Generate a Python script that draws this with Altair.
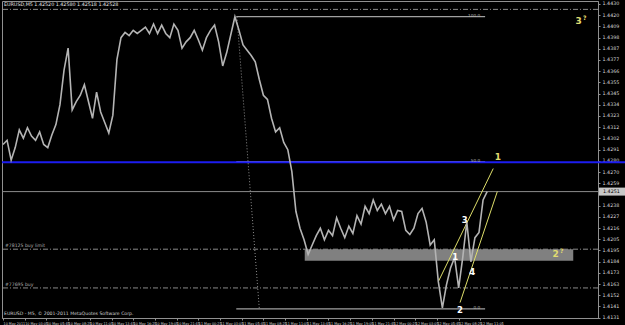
import json
import altair as alt
import pandas as pd

# ---------------- data ----------------
# EURUSD M5, one close every 6 bars (30 min); bar = M5 bar number from chart start
closes = [1.4296, 1.4300, 1.4281, 1.4293, 1.4310, 1.4302, 1.4312, 1.4304, 1.4300, 1.4308,
          1.4296, 1.4293, 1.4305, 1.4315, 1.4334, 1.4367, 1.4388, 1.4329, 1.4337, 1.4343,
          1.4353, 1.4337, 1.4321, 1.4346, 1.4327, 1.4317, 1.4307, 1.4324, 1.4377, 1.4398,
          1.4403, 1.4400, 1.4405, 1.4402, 1.4405, 1.4408, 1.4402, 1.4411, 1.4402, 1.4410,
          1.4402, 1.4398, 1.4411, 1.4405, 1.4388, 1.4394, 1.4398, 1.4405, 1.4396, 1.4386,
          1.4398, 1.4405, 1.4410, 1.4394, 1.4371, 1.4384, 1.4401, 1.4418, 1.4405, 1.4391,
          1.4386, 1.4381, 1.4375, 1.4358, 1.4343, 1.4339, 1.4321, 1.4308, 1.4312, 1.4298,
          1.4291, 1.4270, 1.4232, 1.4216, 1.4205, 1.4191, 1.4200, 1.4209, 1.4216, 1.4205,
          1.4214, 1.4209, 1.4226, 1.4216, 1.4207, 1.4218, 1.4211, 1.4228, 1.4220, 1.4237,
          1.4230, 1.4243, 1.4233, 1.4239, 1.4230, 1.4237, 1.4224, 1.4233, 1.4232, 1.4214,
          1.4210, 1.4216, 1.4230, 1.4235, 1.4222, 1.4200, 1.4205, 1.4165, 1.4140, 1.4162,
          1.4178, 1.4188, 1.4159, 1.4188, 1.4222, 1.4184, 1.4207, 1.4212, 1.4243, 1.4251]
bar_step = 6

time_labels = ["10 May 2011", "10 May 03:05", "10 May 05:45", "10 May 08:25", "10 May 11:05",
               "10 May 13:45", "10 May 16:25", "10 May 19:05", "10 May 21:45", "11 May 00:25",
               "11 May 03:05", "11 May 05:45", "11 May 08:25", "11 May 11:05", "11 May 13:45",
               "11 May 16:25", "11 May 19:05", "11 May 21:45", "12 May 00:25", "12 May 03:05",
               "12 May 05:45", "12 May 08:25", "12 May 11:05"]
time_label_bars = [0, 32, 64, 96, 128, 160, 192, 224, 256, 288, 320, 352, 384, 416, 448,
                   480, 512, 544, 576, 608, 640, 672, 704]

price_ticks = [1.44302, 1.44195, 1.44088, 1.43981, 1.43874, 1.43767, 1.43660, 1.43553,
               1.43446, 1.43339, 1.43232, 1.43125, 1.43018, 1.42911, 1.42804, 1.42697,
               1.42590, 1.42376, 1.42269, 1.42162, 1.42055, 1.41948, 1.41841,
               1.41734, 1.41627, 1.41520, 1.41413, 1.41306]

bid_price = 1.4251
blue_level = 1.4279
dashdot_levels = [1.4425, 1.4196, 1.4159]
order_texts = ["#78125 buy limit", "#77695 buy"]
order_prices = [1.4196, 1.4159]

zone_bars = [445, 841]
zone_prices = [1.4185, 1.4196]

fib_bars = [344, 711]
fib_levels = [1.4418, 1.42795, 1.4139]
fib_texts = ["100.0", "50.0", "0.0"]
fib_diag_bars = [345, 378]
fib_diag_prices = [1.4418, 1.4139]

channel_bars_start = [642, 674]
channel_bars_end = [723, 729]
channel_prices_start = [1.4165, 1.4145]
channel_prices_end = [1.4273, 1.4251]

wave_white_texts = ["3", "1", "4", "2"]
wave_white_bars = [681, 667, 692, 674]
wave_white_prices = [1.4224, 1.4189, 1.4174, 1.4138]
wave_yellow_texts = ["1", "2", "3"]
wave_yellow_bars = [730, 815, 849]
wave_yellow_prices = [1.4284, 1.4191, 1.4414]

header_text = "EURUSD,M5  1.42520 1.42580 1.42518 1.42528"
footer_text = "EURUSD - M5,  \u00a9 2001-2011 MetaQuotes Software Corp."

# ---------------- frames ----------------
price_df = pd.DataFrame({"bar": [i * bar_step for i in range(len(closes))], "close": closes})
one_df = pd.DataFrame({"k": [0]})
zone_df = pd.DataFrame({"b0": [zone_bars[0]], "b1": [zone_bars[1]],
                        "p0": [zone_prices[0]], "p1": [zone_prices[1]]})
dash_df = pd.DataFrame({"price": dashdot_levels})
order_df = pd.DataFrame({"price": order_prices, "label": order_texts})
bid_df = pd.DataFrame({"price": [bid_price], "label": [f"{bid_price:.4f}"]})
blue_df = pd.DataFrame({"price": [blue_level]})
fib_df = pd.DataFrame({"b0": [fib_bars[0]] * 3, "b1": [fib_bars[1]] * 3,
                       "price": fib_levels, "label": fib_texts})
diag_df = pd.DataFrame({"b0": [fib_diag_bars[0]], "b1": [fib_diag_bars[1]],
                        "p0": [fib_diag_prices[0]], "p1": [fib_diag_prices[1]]})
chan_df = pd.DataFrame({"b0": channel_bars_start, "b1": channel_bars_end,
                        "p0": channel_prices_start, "p1": channel_prices_end})
white_df = pd.DataFrame({"bar": wave_white_bars, "price": wave_white_prices, "label": wave_white_texts})
yellow_df = pd.DataFrame({"bar": wave_yellow_bars, "price": wave_yellow_prices, "label": wave_yellow_texts})
q_df = yellow_df.iloc[1:].assign(label="?")

# ---------------- scales / axes ----------------
FONT = "DejaVu Sans"
NARROW = "Liberation Sans Narrow, DejaVu Sans Condensed, sans-serif"
xs = alt.Scale(domain=[-1.5, 877.5], nice=False, zero=False)
ys = alt.Scale(domain=[1.41303, 1.44330], nice=False, zero=False)
label_expr = json.dumps(time_labels) + "[round(datum.value/32)]"
AX = alt.Axis(values=time_label_bars, labelExpr=label_expr, labelAlign="left",
              labelFontSize=3.7, labelFont=NARROW, labelColor="#d8d8d8",
              labelPadding=1.5, tickSize=2, tickColor="#909090",
              domainColor="#909090", labelOverlap=False, grid=False, title=None)
AY = alt.Axis(orient="right", values=price_ticks, format=".4f",
              labelFontSize=4.8, labelFont=FONT, labelColor="#d8d8d8",
              labelPadding=2, tickSize=2, tickColor="#909090",
              domainColor="#909090", labelOverlap=False, grid=False, title=None)


def X(f):
    return alt.X(f, type="quantitative", scale=xs, axis=AX, title=None)


def Y(f):
    return alt.Y(f, type="quantitative", scale=ys, axis=AY, title=None)


price_line = alt.Chart(price_df).mark_line(color="#b4b4b4", strokeWidth=1.6).encode(
    x=X("bar"), y=Y("close"))

zone = alt.Chart(zone_df).mark_rect(color="#808080").encode(
    x=X("b0"), x2="b1", y=Y("p0"), y2="p1")

dash = alt.Chart(dash_df).mark_rule(color="#8a8a8a", strokeWidth=1, strokeDash=[5, 2, 1, 2]).encode(
    y=Y("price"))

orders = alt.Chart(order_df).mark_text(color="#b0b0b0", font=FONT, fontSize=4.6, align="left",
                                       baseline="bottom", dy=-1).encode(
    x=alt.value(3), y=Y("price"), text="label:N")

bid_line = alt.Chart(bid_df).mark_rule(color="#8c8c8c", strokeWidth=1).encode(y=Y("price"))
bid_box = alt.Chart(bid_df).mark_rule(color="#c8c8c8", strokeWidth=8).encode(
    x=alt.value(597), x2=alt.value(623), y=Y("price"))
bid_text = alt.Chart(bid_df).mark_text(color="#000000", font=FONT, fontSize=4.8, align="left",
                                       baseline="middle", dx=4).encode(
    x=alt.value(597), y=Y("price"), text="label:N")

blue = alt.Chart(blue_df).mark_rule(color="#1c1cf0", strokeWidth=2).encode(
    x=alt.value(0), x2=alt.value(623), y=Y("price"))

fib_lines = alt.Chart(fib_df).mark_rule(color="#a0a0a0", strokeWidth=1.3).encode(
    x=X("b0"), x2="b1", y=Y("price"))
fib_text = alt.Chart(fib_df).mark_text(color="#b0b0b0", font=FONT, fontSize=4.2, align="right",
                                       baseline="bottom", dx=-5, dy=1).encode(
    x=X("b1"), y=Y("price"), text="label:N")
diag = alt.Chart(diag_df).mark_rule(color="#909090", strokeWidth=1, strokeDash=[1, 2]).encode(
    x=X("b0"), x2="b1", y=Y("p0"), y2="p1")

channels = alt.Chart(chan_df).mark_rule(color="#dede6a", strokeWidth=1).encode(
    x=X("b0"), x2="b1", y=Y("p0"), y2="p1")

white_t = alt.Chart(white_df).mark_text(color="#ffffff", font=FONT, fontSize=8.5,
                                        fontWeight="bold", baseline="middle").encode(
    x=X("bar"), y=Y("price"), text="label:N")
yellow_t = alt.Chart(yellow_df).mark_text(color="#e0dc70", font=FONT, fontSize=9,
                                          fontWeight="bold", baseline="middle").encode(
    x=X("bar"), y=Y("price"), text="label:N")
q_t = alt.Chart(q_df).mark_text(color="#e0dc70", font=FONT, fontSize=6, fontWeight="bold",
                                baseline="middle", dx=6, dy=-3).encode(
    x=X("bar"), y=Y("price"), text="label:N")

header = alt.Chart(one_df).mark_text(text=header_text, color="#e8e8e8", font=FONT, fontSize=4.8,
                                     align="left", baseline="middle").encode(
    x=alt.value(2), y=alt.value(4))
footer = alt.Chart(one_df).mark_text(text=footer_text, color="#d0d0d0", font=FONT, fontSize=4.6,
                                     align="left", baseline="middle").encode(
    x=alt.value(2), y=alt.value(313))

chart = alt.layer(
    zone, dash, orders, bid_line, fib_lines, blue, diag, fib_text,
    channels, price_line, white_t, yellow_t, q_t, header, footer, bid_box, bid_text
).properties(
    width=596, height=317, background="#000000",
    padding={"left": 2, "top": 1, "right": 27, "bottom": 7},
    autosize=alt.AutoSizeParams(type="none"),
).configure_view(stroke="#909090", strokeWidth=1, fill="#000000")

chart.save("out.html", embed_options={"renderer": "svg", "actions": False})
